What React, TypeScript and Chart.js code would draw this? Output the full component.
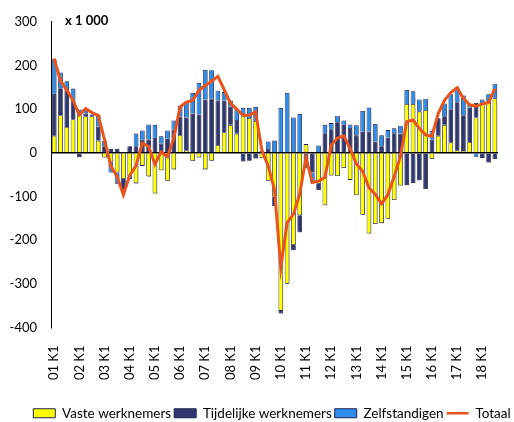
import React, { useEffect, useRef } from "react";
import { Chart, registerables } from "chart.js";

Chart.register(...registerables);

const YEARS = ["01", "02", "03", "04", "05", "06", "07", "08", "09", "10", "11", "12", "13", "14", "15", "16", "17", "18"];
const QUARTERS = ["K1", "K2", "K3", "K4"];
const QUARTER_COUNT = 71;
const CATEGORIES = YEARS.flatMap((y) => QUARTERS.map((q) => `${y} ${q}`)).slice(0, QUARTER_COUNT);

const SERIES_NAMES = ["Vaste werknemers", "Tijdelijke werknemers", "Zelfstandigen", "Totaal"];

const VASTE = [
  39, 86, 59, 77, 86, 84, 84, 28, -11, -20, -45, -60, -55, -70, -30, -54, -93, -40, -64, -38,
  41, 5, -19, -11, -38, -18, 18, 47, 64, 44, 83, 80, 73, -12, -64, -100, -362, -300, -211, -143,
  20, 0, -71, -120, -52, -53, -35, -62, -97, -142, -185, -163, -161, -151, -108, -75,
  112, 112, 95, 98, -14, 39, 64, 24, 6, 4, 25, 81, 113, 118, 125,
];
const TIJDELIJK = [
  96, 62, 84, 45, -10, 6, 4, 32, 15, 9, 9, -26, 15, 15, 30, 30, 34, 21, 32, 53,
  42, 76, 90, 88, 122, 124, 102, 73, 42, 31, -20, -18, -13, 5, 9, -22, -6, 0, -12, -39,
  -34, -45, -14, 45, 54, 70, 64, 57, 40, 48, 49, 26, 15, 35, 45, 44,
  -74, -69, -63, -83, 30, 40, 20, 76, 110, 82, 78, 33, -12, -22, -14,
];
const ZELFSTANDIG = [
  79, 36, 21, 25, 13, 9, 0, 26, 12, -25, -26, 0, -5, 29, 21, 35, 30, 17, 19, 21,
  24, 34, 47, 72, 68, 65, 22, 19, 14, 26, 20, 23, 32, 0, 17, 28, 103, 137, 81, 89,
  0, -23, 17, 19, 14, 15, 10, 8, 23, 48, 55, 40, 25, 17, 11, 18,
  32, 29, 27, 26, 20, 0, 29, 34, 34, 45, 7, -9, 9, 16, 33,
];
const TOTAAL = [
  216, 165, 144, 120, 87, 101, 92, 86, 30, -30, -55, -96, -52, -30, 22, 15, -26, 2, -9, 33,
  105, 116, 120, 143, 154, 164, 175, 145, 114, 100, 86, 86, 94, 5, -30, -85, -263, -160, -141, -95,
  -11, -68, -65, -56, 17, 34, 39, 10, -25, -42, -80, -95, -117, -96, -55, -8,
  71, 75, 56, 41, 38, 90, 120, 138, 149, 125, 110, 107, 112, 115, 147,
];

const Y_MIN = -400;
const Y_MAX = 300;
const Y_STEP = 100;

const YELLOW = "#FFFF00";
const NAVY = "#30376F";
const BLUE = "#2E8DEA";
const LINE_COLOR = "#E9541C";
const OUTLINE = "#1D2350";
const FONT = "Lato, 'Open Sans', sans-serif";

const barShadow = {
  id: "barShadow",
  beforeDatasetDraw(chart: any, args: any) {
    const ctx = chart.ctx;
    ctx.save();
    if (args.meta.type === "bar") {
      ctx.shadowColor = "rgba(60,60,80,0.5)";
      ctx.shadowOffsetX = 1.5;
      ctx.shadowOffsetY = 1;
      ctx.shadowBlur = 1.5;
    }
  },
  afterDatasetDraw(chart: any) {
    chart.ctx.restore();
  },
};

const legendShift = {
  id: "legendShift",
  afterLayout(chart: any) {
    const l = chart.legend;
    if (l) {
      l.left += 15;
      l.right += 15;
    }
  },
};

export default function App() {
  const canvasRef = useRef<HTMLCanvasElement | null>(null);

  useEffect(() => {
    if (!canvasRef.current) return;
    const barBase = {
      type: "bar" as const,
      stack: "bars",
      order: 1,
      borderColor: OUTLINE,
      borderWidth: 0.8,
      barPercentage: 0.74,
      categoryPercentage: 1,
    };
    const chart = new Chart(canvasRef.current, {
      type: "bar",
      data: {
        labels: CATEGORIES,
        datasets: [
          { ...barBase, label: SERIES_NAMES[0], data: VASTE, backgroundColor: YELLOW },
          { ...barBase, label: SERIES_NAMES[1], data: TIJDELIJK, backgroundColor: NAVY },
          { ...barBase, label: SERIES_NAMES[2], data: ZELFSTANDIG, backgroundColor: BLUE },
          {
            type: "line" as const,
            label: SERIES_NAMES[3],
            data: TOTAAL,
            stack: "total",
            order: 0,
            borderColor: LINE_COLOR,
            backgroundColor: LINE_COLOR,
            borderWidth: 3,
            pointRadius: 0,
            tension: 0,
            fill: false,
          },
        ] as any,
      },
      options: {
        animation: false,
        responsive: false,
        maintainAspectRatio: false,
        layout: { padding: { top: 17, right: 0, left: 0, bottom: 0 } },
        plugins: {
          tooltip: { enabled: false },
          legend: {
            position: "bottom",
            labels: {
              usePointStyle: true,
              pointStyleWidth: 22,
              boxHeight: 9,
              padding: 3,
              color: "#000",
              font: { family: FONT, size: 13.5 },
              sort: (a: any, b: any) => a.datasetIndex - b.datasetIndex,
              generateLabels: (ch: any) => {
                const items = (Chart.defaults.plugins.legend.labels as any).generateLabels(ch);
                return items.map((it: any) => {
                  const ds = ch.data.datasets[it.datasetIndex];
                  if (ds.type === "line") {
                    return { ...it, pointStyle: "line", lineWidth: 2.5, strokeStyle: LINE_COLOR, fillStyle: LINE_COLOR };
                  }
                  return { ...it, pointStyle: "rect", lineWidth: 1, strokeStyle: OUTLINE };
                });
              },
            },
          },
        },
        scales: {
          x: {
            stacked: true,
            grid: { display: false },
            border: { display: false },
            ticks: {
              autoSkip: false,
              maxRotation: 90,
              minRotation: 90,
              padding: 10,
              color: "#000",
              font: { family: FONT, size: 13 },
              callback: (_v: any, i: number) => (i % 4 === 0 ? CATEGORIES[i] : ""),
            },
            afterFit: (s: any) => {
              s.height = 76;
              s.paddingRight = 16;
            },
          },
          y: {
            stacked: true,
            min: Y_MIN,
            max: Y_MAX,
            z: 1,
            ticks: {
              stepSize: Y_STEP,
              padding: 14,
              color: "#000",
              font: { family: FONT, size: 13 },
            },
            grid: {
              drawTicks: false,
              color: (c: any) => (c.tick && c.tick.value === 0 ? "#000" : "rgba(0,0,0,0)"),
              lineWidth: 1.5,
            },
            border: { display: true, color: "#000", width: 1 },
            afterFit: (s: any) => {
              s.width = 51;
            },
          },
        },
      } as any,
      plugins: [barShadow, legendShift],
    });
    return () => chart.destroy();
  }, []);

  return (
    <div
      style={{
        position: "fixed",
        left: 0,
        top: 0,
        width: 514,
        height: 422,
        overflow: "hidden",
        background: "#fff",
      }}
    >
      <canvas ref={canvasRef} width={514} height={430} style={{ display: "block" }} />
      <div
        style={{
          position: "absolute",
          left: 65,
          top: 12,
          fontFamily: FONT,
          fontWeight: 700,
          fontSize: 13,
          color: "#000",
          lineHeight: "16px",
          whiteSpace: "nowrap",
        }}
      >
        x 1 000
      </div>
    </div>
  );
}
